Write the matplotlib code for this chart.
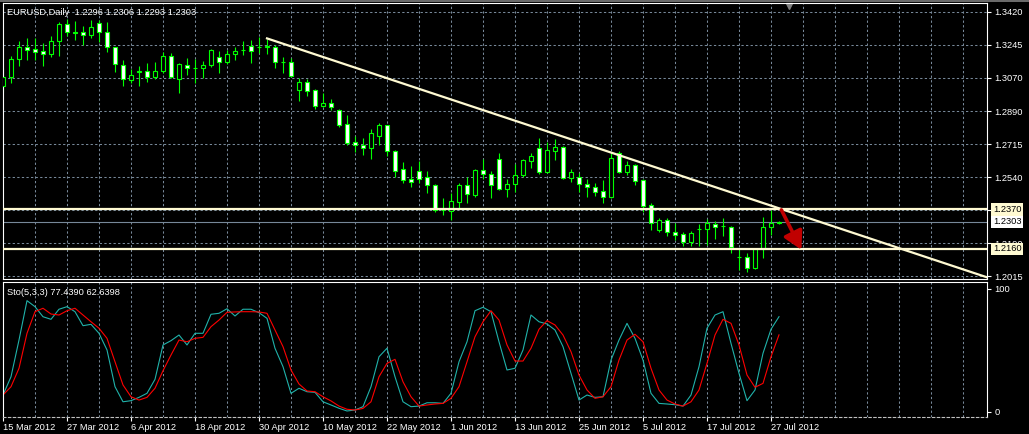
import matplotlib.pyplot as plt
import matplotlib.transforms as mtransforms
import numpy as np

# EURUSD daily bars, 15 Mar 2012 .. 30 Jul 2012
opens = [1.3027, 1.3074, 1.3171, 1.3231, 1.3222, 1.3212, 1.3195, 1.3266, 1.3353, 1.3311,
         1.3311, 1.3298, 1.3358, 1.3314, 1.3231, 1.3137, 1.3057, 1.3098, 1.3105, 1.3074,
         1.3105, 1.3185, 1.3061, 1.3135, 1.3122, 1.3119, 1.3135, 1.3178, 1.3151, 1.3194,
         1.3217, 1.3238, 1.3231, 1.3234, 1.3231, 1.3154, 1.3151, 1.3004, 1.3045, 1.3002,
         1.2921, 1.2934, 1.2898, 1.2822, 1.2727, 1.2711, 1.2695, 1.2761, 1.2816, 1.2678,
         1.2583, 1.2530, 1.2572, 1.2540, 1.2498, 1.2367, 1.2360, 1.2409, 1.2500, 1.2446,
         1.2579, 1.2558, 1.2637, 1.2480, 1.2503, 1.2553, 1.2628, 1.2694, 1.2570, 1.2681,
         1.2699, 1.2535, 1.2543, 1.2505, 1.2490, 1.2468, 1.2437, 1.2671, 1.2570, 1.2606,
         1.2526, 1.2392, 1.2261, 1.2314, 1.2252, 1.2238, 1.2199, 1.2268, 1.2266, 1.2291,
         1.2284, 1.2278, 1.2119, 1.2116, 1.2057, 1.2160, 1.2278, 1.2296]
closes = [1.3071, 1.3168, 1.3231, 1.3217, 1.3208, 1.3195, 1.3264, 1.3353, 1.3311, 1.3309,
          1.3295, 1.3337, 1.3314, 1.3231, 1.3140, 1.3061, 1.3082, 1.3103, 1.3074, 1.3106,
          1.3185, 1.3074, 1.3142, 1.3119, 1.3121, 1.3135, 1.3217, 1.3151, 1.3196, 1.3212,
          1.3218, 1.3213, 1.3230, 1.3235, 1.3154, 1.3153, 1.3080, 1.3045, 1.3000, 1.2921,
          1.2934, 1.2916, 1.2820, 1.2725, 1.2711, 1.2695, 1.2774, 1.2818, 1.2681, 1.2575,
          1.2528, 1.2514, 1.2533, 1.2498, 1.2367, 1.2368, 1.2413, 1.2500, 1.2450, 1.2579,
          1.2556, 1.2498, 1.2480, 1.2505, 1.2553, 1.2632, 1.2653, 1.2570, 1.2685, 1.2699,
          1.2535, 1.2567, 1.2503, 1.2490, 1.2464, 1.2437, 1.2641, 1.2570, 1.2606, 1.2522,
          1.2388, 1.2296, 1.2314, 1.2247, 1.2234, 1.2199, 1.2243, 1.2267, 1.2296, 1.2278,
          1.2283, 1.2169, 1.2118, 1.2057, 1.2160, 1.2278, 1.2299, 1.2303]
highs = [1.3119, 1.3185, 1.3266, 1.3279, 1.3279, 1.3256, 1.3291, 1.3364, 1.3380, 1.3372,
         1.3344, 1.3376, 1.3376, 1.3364, 1.3234, 1.3163, 1.3114, 1.3131, 1.3145, 1.3154,
         1.3208, 1.3199, 1.3149, 1.3176, 1.3167, 1.3158, 1.3222, 1.3212, 1.3217, 1.3231,
         1.3266, 1.3270, 1.3284, 1.3275, 1.3243, 1.3178, 1.3172, 1.3066, 1.3062, 1.3008,
         1.2986, 1.2956, 1.2903, 1.2871, 1.2760, 1.2748, 1.2797, 1.2827, 1.2818, 1.2685,
         1.2621, 1.2600, 1.2628, 1.2575, 1.2505, 1.2429, 1.2459, 1.2509, 1.2540, 1.2585,
         1.2636, 1.2574, 1.2671, 1.2530, 1.2611, 1.2636, 1.2667, 1.2748, 1.2730, 1.2744,
         1.2706, 1.2583, 1.2561, 1.2530, 1.2508, 1.2526, 1.2676, 1.2680, 1.2628, 1.2611,
         1.2530, 1.2402, 1.2326, 1.2323, 1.2300, 1.2252, 1.2256, 1.2291, 1.2319, 1.2309,
         1.2323, 1.2282, 1.2160, 1.2138, 1.2164, 1.2328, 1.2367, 1.2306]
lows = [1.2995, 1.3043, 1.3131, 1.3163, 1.3163, 1.3131, 1.3181, 1.3187, 1.3293, 1.3270,
        1.3243, 1.3282, 1.3261, 1.3208, 1.3101, 1.3027, 1.3039, 1.3027, 1.3048, 1.3061,
        1.3093, 1.3066, 1.2990, 1.3084, 1.3039, 1.3066, 1.3125, 1.3096, 1.3140, 1.3163,
        1.3190, 1.3149, 1.3199, 1.3195, 1.3119, 1.3093, 1.3074, 1.2947, 1.2974, 1.2903,
        1.2912, 1.2898, 1.2809, 1.2713, 1.2676, 1.2659, 1.2637, 1.2713, 1.2654, 1.2540,
        1.2512, 1.2491, 1.2512, 1.2459, 1.2358, 1.2340, 1.2314, 1.2376, 1.2406, 1.2437,
        1.2530, 1.2432, 1.2473, 1.2437, 1.2464, 1.2542, 1.2588, 1.2556, 1.2561, 1.2632,
        1.2530, 1.2517, 1.2464, 1.2437, 1.2443, 1.2406, 1.2429, 1.2561, 1.2553, 1.2500,
        1.2358, 1.2261, 1.2252, 1.2229, 1.2208, 1.2173, 1.2173, 1.2173, 1.2182, 1.2213,
        1.2226, 1.2140, 1.2048, 1.2039, 1.2053, 1.2114, 1.2234, 1.2293]

# Stochastic(5,3,3): main (%K) and signal (%D)
stoch_k = [13.6, 28.5, 58.4, 90.5, 85.6, 77.4, 75.3, 83.5, 85.6, 81.5,
           70.1, 71.2, 63.9, 50.3, 20.4, 8.1, 9.0, 11.7, 15.0, 26.4,
           54.4, 57.9, 62.5, 54.4, 63.9, 63.9, 79.4, 80.2, 83.9, 78.0,
           83.5, 83.5, 80.7, 76.1, 51.7, 36.7, 15.0, 19.1, 16.3, 15.8,
           8.1, 5.5, 2.8, 0.6, 1.4, 4.1, 20.4, 44.8, 51.7, 28.5,
           8.1, 4.1, 4.6, 7.3, 7.3, 6.8, 15.0, 40.7, 57.0, 82.3,
           85.1, 81.5, 57.0, 34.0, 35.4, 50.3, 78.8, 73.3, 71.5, 66.6,
           53.0, 31.3, 9.5, 13.6, 11.7, 12.2, 42.1, 58.4, 72.0, 59.8,
           42.1, 15.0, 6.8, 6.3, 5.7, 4.6, 13.6, 36.7, 68.0, 78.8,
           81.5, 55.7, 31.3, 9.0, 17.7, 47.6, 67.2, 77.439]
stoch_d = [13.6, 20.4, 35.4, 63.9, 81.5, 84.3, 79.6, 78.8, 82.3, 84.3,
           78.8, 73.3, 68.0, 59.8, 40.7, 21.8, 12.2, 9.5, 11.7, 19.1,
           33.4, 46.2, 58.4, 57.0, 59.8, 60.6, 69.3, 74.7, 81.0, 81.3,
           81.5, 81.5, 81.3, 80.2, 66.6, 53.0, 34.0, 22.6, 16.9, 16.3,
           12.2, 8.8, 4.6, 2.0, 1.4, 2.7, 8.1, 28.5, 39.4, 42.7,
           24.4, 12.2, 4.6, 5.5, 6.3, 6.8, 10.9, 20.4, 40.7, 61.1,
           73.3, 82.3, 74.7, 54.4, 41.3, 41.3, 51.7, 67.2, 74.2, 70.7,
           62.5, 48.9, 29.9, 17.7, 10.9, 12.2, 20.4, 42.1, 58.4, 63.1,
           57.0, 35.4, 17.7, 9.5, 6.3, 4.6, 8.1, 17.7, 39.4, 62.5,
           75.3, 72.0, 54.4, 29.9, 19.9, 23.1, 44.8, 62.640]

date_labels = ['15 Mar 2012', '27 Mar 2012', '6 Apr 2012', '18 Apr 2012', '30 Apr 2012',
               '10 May 2012', '22 May 2012', '1 Jun 2012', '13 Jun 2012', '25 Jun 2012',
               '5 Jul 2012', '17 Jul 2012', '27 Jul 2012']
price_ticks = [1.3420, 1.3245, 1.3070, 1.2890, 1.2715, 1.2540, 1.2365, 1.2190, 1.2015]
hidden_ticks = [1.2365]  # sits fully under the 1.2370 line label
resistance = 1.2370
support = 1.2160
bid = 1.2303
trend_x = [33, 123]
trend_y = [1.3278, 1.2009]

plt.rcParams['font.family'] = ['Liberation Sans', 'DejaVu Sans']
plt.rcParams['font.size'] = 6.7

W, H = 1029, 434
fig = plt.figure(figsize=(W / 100, H / 100), dpi=100, facecolor='black')


def panel(l, t, r, b):
    a = fig.add_axes([l / W, 1 - b / H, (r - l) / W, (b - t) / H], facecolor='black')
    for s in a.spines.values():
        s.set_color('white')
        s.set_linewidth(0.8)
    return a


ax = panel(3, 3, 987, 279)
ax2 = panel(3, 282, 987, 417)

fig.add_artist(plt.Line2D([0, 1], [0.9985, 0.9985], color='#808080', lw=1.2))

x = np.arange(len(opens))
o = np.array(opens)
c = np.array(closes)
grid_c = '#778899'
dash = (0, (2.2, 2.2))
grid_x = np.arange(4, 121, 4)

# main price panel
for gx in grid_x:
    ax.axvline(gx, color=grid_c, lw=0.75, ls=dash, zorder=0)
    ax2.axvline(gx, color=grid_c, lw=0.75, ls=dash, zorder=0)
for gy in price_ticks:
    ax.axhline(gy, color=grid_c, lw=0.75, ls=dash, zorder=0)

lime = '#00FF00'
ax.vlines(x, lows, highs, color=lime, lw=0.8, zorder=2)
body_h = np.abs(c - o)
body_b = np.minimum(o, c)
face = ['black' if cc > oo else 'white' for oo, cc in zip(o, c)]
ax.bar(x, body_h, bottom=body_b, width=0.55, color=face, edgecolor=lime, linewidth=0.8, zorder=3)

cream = '#FFFAD2'
ax.axhline(resistance, color=cream, lw=1.6, zorder=4)
ax.axhline(support, color=cream, lw=1.6, zorder=4)
ax.axhline(bid, color=grid_c, lw=0.8, zorder=1)
ax.plot(trend_x, trend_y, color=cream, lw=1.6, zorder=4)

ax.annotate('', xy=(99.8, 1.2155), xytext=(97.3, 1.2367),
            arrowprops=dict(arrowstyle='-|>,head_length=0.9,head_width=0.5',
                            color='#C00000', lw=2.6, mutation_scale=12, shrinkA=0, shrinkB=0),
            zorder=6)

ax.set_xlim(0, 123)
ax.set_ylim(1.2000, 1.3466)
ax.set_xticks([])
ax.yaxis.tick_right()
ax.set_yticks(price_ticks)
ax.set_yticklabels(['' if p in hidden_ticks else f'{p:.4f}' for p in price_ticks])
ax.tick_params(axis='y', colors='white', length=3, width=0.8, pad=2.5, labelcolor='white')

ty = mtransforms.blended_transform_factory(ax.transAxes, ax.transData)
for val, fc in [(resistance, cream), (bid, 'white'), (support, cream)]:
    ax.text(1.0061, val, f'{val:.4f}', transform=ty, color='black', va='center', ha='left',
            clip_on=False, zorder=10,
            bbox=dict(boxstyle='square,pad=0.2', fc=fc, ec='none'))

ax.plot([98.25], [0.988], transform=ax.get_xaxis_transform(), marker='v',
        color='#808080', markersize=5, clip_on=False)
ax.text(0.004, 0.982, 'EURUSD,Daily  1.2296 1.2306 1.2293 1.2303', transform=ax.transAxes,
        color='white', va='top', ha='left')

# stochastic panel
ax2.plot(x, stoch_k, color='#20B2AA', lw=0.8)
ax2.plot(x, stoch_d, color='#FF0000', lw=0.8)
ax2.set_xlim(0, 123)
ax2.set_ylim(-4.3, 105.7)
ax2.yaxis.tick_right()
ax2.set_yticks([0, 100])
ax2.set_yticklabels(['0', '100'])
ax2.tick_params(axis='y', colors='white', length=3, width=0.8, pad=2.5)
ax2.set_xticks(np.arange(0, 97, 8))
ax2.set_xticklabels(date_labels)
ax2.tick_params(axis='x', colors='white', length=3, width=0.8, pad=1.5)
for tl in ax2.get_xticklabels():
    tl.set_ha('left')
ax2.spines['bottom'].set_color('#C0C0C0')
ax2.spines['bottom'].set_linestyle(dash)
ax2.text(0.004, 0.956, 'Sto(5,3,3) 77.4390 62.6398', transform=ax2.transAxes,
         color='white', va='top', ha='left')

fig.savefig('out.png', dpi=100, facecolor='black')
